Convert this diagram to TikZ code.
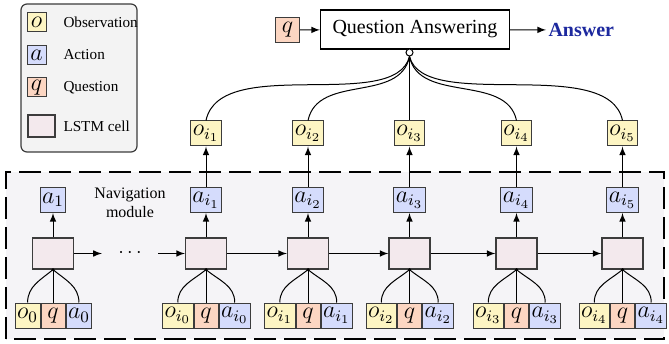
\documentclass[tikz,border=0pt]{standalone}
\usepackage[no-math]{fontspec}
\setmainfont{Liberation Serif}
\definecolor{ObsYellow}{RGB}{253,245,195}
\definecolor{ActBlue}{RGB}{213,220,252}
\definecolor{QuesPeach}{RGB}{252,214,194}
\definecolor{CellPink}{RGB}{243,233,237}
\definecolor{NavGrey}{RGB}{245,244,247}
\definecolor{LegGrey}{RGB}{243,243,243}
\definecolor{EdgeGrey}{RGB}{60,60,60}
\definecolor{AnsBlue}{RGB}{28,40,158}

\begin{document}
\begin{tikzpicture}[x=.5pt,y=.5pt,line width=.5pt,>=latex,
  box/.style={draw=EdgeGrey,minimum width=12pt,minimum height=12.5pt,inner sep=1pt,font=\large},
  obs/.style={box,fill=ObsYellow},
  act/.style={box,fill=ActBlue},
  ques/.style={box,fill=QuesPeach},
  cell/.style={draw=EdgeGrey,line width=.6pt,fill=CellPink,minimum width=20.5pt,minimum height=15.5pt},
  legbox/.style={minimum width=9.5pt,minimum height=9.5pt},
  legtext/.style={anchor=west,inner sep=0pt,font=\fontsize{7.6}{9}\selectfont}]
\def\dotsize{.8pt}
\useasboundingbox (0,0) rectangle (669,343);

\draw[fill=LegGrey,draw=EdgeGrey,line width=.6pt,rounded corners=3pt] (21,191) rectangle (137,339);
\node[obs,legbox] (legObs) at (36.5,320.5) {$o$};
\node[act,legbox] (legAct) at (36.5,288) {$a$};
\node[ques,legbox] (legQues) at (36.5,255.5) {$q$};
\node[cell,minimum width=13.5pt,minimum height=11pt] (legCell) at (41.5,217) {};
\node[legtext] (legObsText) at (63,320.5) {Observation};
\node[legtext] (legActText) at (63,288) {Action};
\node[legtext] (legQuesText) at (63,255.5) {Question};
\node[legtext] (legCellText) at (63,217) {LSTM cell};

\draw[dashed,dash pattern=on 11pt off 4pt,line width=.7pt,fill=NavGrey] (6,4) rectangle (664,171);
\node[font=\footnotesize,align=center] (navLabel) at (130,140.5) {Navigation\\module};

\node[ques] (qTop) at (287.5,313) {$q$};
\node[draw,line width=.6pt,minimum width=94.5pt,minimum height=19.5pt] (qa) at (415,313.5) {Question Answering};
\node[font=\bfseries,text=AnsBlue,anchor=west,inner sep=1pt] (answer) at (546,313) {Answer};
\draw[->] (qTop) -- (qa);
\draw[->] (qa) -- (answer);
\node[circle,draw,fill=white,inner sep=0pt,minimum size=3.5pt] (hub) at (409.5,290.5) {};

\node[obs] (obs1) at (206,209.5) {$o_{i_1}$};
\node[obs] (obs2) at (308,209.5) {$o_{i_2}$};
\node[obs] (obs3) at (409.5,209.5) {$o_{i_3}$};
\node[obs] (obs4) at (516.5,209.5) {$o_{i_4}$};
\node[obs] (obs5) at (622.5,209.5) {$o_{i_5}$};
\draw (obs1.north) .. controls +(14,67) and +(-14.5,-57) .. (hub.south);
\draw (obs2.north) .. controls +(10,47) and +(-9.5,-47) .. (hub.south);
\draw (obs3.north) -- (hub.south);
\draw (obs4.north) .. controls +(-10,47) and +(9.5,-47) .. (hub.south);
\draw (obs5.north) .. controls +(-14,67) and +(14.5,-57) .. (hub.south);

\node[cell] (c0) at (53,89.5) {};
\node[cell] (c1) at (206,89.5) {};
\node[cell] (c2) at (308,89.5) {};
\node[cell] (c3) at (409.5,89.5) {};
\node[cell] (c4) at (516.5,89.5) {};
\node[cell] (c5) at (622.5,89.5) {};
\node[inner xsep=8pt] (dots) at (130,89.5) {$\cdots$};
\draw[->] (c0) -- (dots);
\draw[->] (dots) -- (c1);
\draw[->] (c1) -- (c2);
\draw[->] (c2) -- (c3);
\draw[->] (c3) -- (c4);
\draw[->] (c4) -- (c5);

\node[act] (act0) at (53,143) {$a_1$};
\node[act] (act1) at (206,143) {$a_{i_1}$};
\node[act] (act2) at (308,143) {$a_{i_2}$};
\node[act] (act3) at (409.5,143) {$a_{i_3}$};
\node[act] (act4) at (516.5,143) {$a_{i_4}$};
\node[act] (act5) at (622.5,143) {$a_{i_5}$};
\draw[->] (c0) -- (act0);
\draw[->] (c1) -- (act1);
\draw[->] (c2) -- (act2);
\draw[->] (c3) -- (act3);
\draw[->] (c4) -- (act4);
\draw[->] (c5) -- (act5);
\draw[->] (act1) -- (obs1);
\draw[->] (act2) -- (obs2);
\draw[->] (act3) -- (obs3);
\draw[->] (act4) -- (obs4);
\draw[->] (act5) -- (obs5);

\node[ques] (inQ0) at (53,27.5) {$q$};
\node[obs,anchor=east] (inO0) at (inQ0.west) {$o_0$};
\node[act,anchor=west] (inA0) at (inQ0.east) {$a_0$};
\node[ques] (inQ1) at (206,27.5) {$q$};
\node[obs,anchor=east] (inO1) at (inQ1.west) {$o_{i_0}$};
\node[act,anchor=west] (inA1) at (inQ1.east) {$a_{i_0}$};
\node[ques] (inQ2) at (308,27.5) {$q$};
\node[obs,anchor=east] (inO2) at (inQ2.west) {$o_{i_1}$};
\node[act,anchor=west] (inA2) at (inQ2.east) {$a_{i_1}$};
\node[ques] (inQ3) at (409.5,27.5) {$q$};
\node[obs,anchor=east] (inO3) at (inQ3.west) {$o_{i_2}$};
\node[act,anchor=west] (inA3) at (inQ3.east) {$a_{i_2}$};
\node[ques] (inQ4) at (516.5,27.5) {$q$};
\node[obs,anchor=east] (inO4) at (inQ4.west) {$o_{i_3}$};
\node[act,anchor=west] (inA4) at (inQ4.east) {$a_{i_3}$};
\node[ques] (inQ5) at (622.5,27.5) {$q$};
\node[obs,anchor=east] (inO5) at (inQ5.west) {$o_{i_4}$};
\node[act,anchor=west] (inA5) at (inQ5.east) {$a_{i_4}$};

\draw (inO0.north) to[out=90,in=-140] (c0.south);
\draw (inQ0) -- (c0);
\draw (inA0.north) to[out=90,in=-40] (c0.south);
\draw (inO1.north) to[out=90,in=-140] (c1.south);
\draw (inQ1) -- (c1);
\draw (inA1.north) to[out=90,in=-40] (c1.south);
\draw (inO2.north) to[out=90,in=-140] (c2.south);
\draw (inQ2) -- (c2);
\draw (inA2.north) to[out=90,in=-40] (c2.south);
\draw (inO3.north) to[out=90,in=-140] (c3.south);
\draw (inQ3) -- (c3);
\draw (inA3.north) to[out=90,in=-40] (c3.south);
\draw (inO4.north) to[out=90,in=-140] (c4.south);
\draw (inQ4) -- (c4);
\draw (inA4.north) to[out=90,in=-40] (c4.south);
\draw (inO5.north) to[out=90,in=-140] (c5.south);
\draw (inQ5) -- (c5);
\draw (inA5.north) to[out=90,in=-40] (c5.south);

\fill (c0.south) circle (\dotsize);
\fill (c1.south) circle (\dotsize);
\fill (c2.south) circle (\dotsize);
\fill (c3.south) circle (\dotsize);
\fill (c4.south) circle (\dotsize);
\fill (c5.south) circle (\dotsize);

\end{tikzpicture}
\end{document}
